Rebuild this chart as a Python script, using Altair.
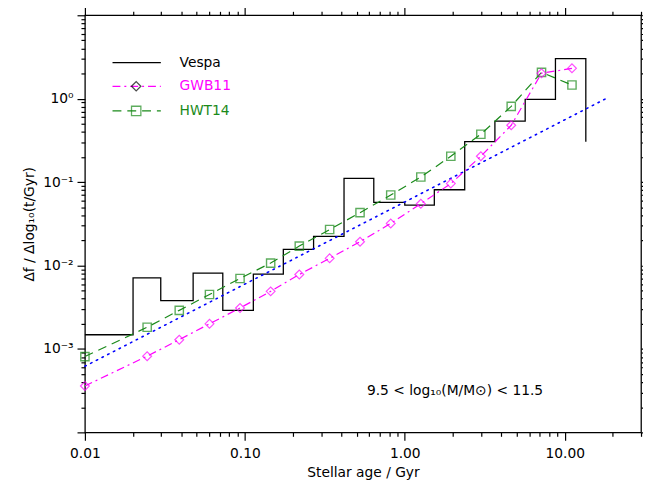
import pandas as pd
import altair as alt

# Vespa histogram: bin edges (Gyr) and heights
vespa_edges = [0.01, 0.02, 0.0298, 0.0475, 0.0728, 0.113, 0.174, 0.269, 0.417, 0.64,
               1.0, 1.53, 2.37, 3.66, 5.66, 8.75, 13.55]
vespa_vals = [1.48e-3, 7.1e-3, 3.8e-3, 8.1e-3, 2.9e-3, 7.9e-3, 1.56e-2, 2.24e-2, 0.111,
              0.057, 0.053, 0.081, 0.305, 0.54, 0.98, 3.02]
vespa_end = 0.305

# model points
mod_age = [0.01, 0.0245, 0.0389, 0.0601, 0.0933, 0.145, 0.219, 0.339, 0.525,
           0.817, 1.26, 1.94, 2.99, 4.63, 7.16, 11.1]
gwb11 = [3.6e-4, 8.2e-4, 1.29e-3, 2.0e-3, 3.1e-3, 4.9e-3, 7.8e-3, 1.22e-2, 1.93e-2,
         3.2e-2, 5.5e-2, 9.6e-2, 0.204, 0.48, 2.02, 2.31]
hwt14 = [8.1e-4, 1.82e-3, 2.9e-3, 4.5e-3, 7.0e-3, 1.07e-2, 1.71e-2, 2.7e-2, 4.3e-2,
         7.0e-2, 0.115, 0.204, 0.375, 0.81, 2.07, 1.46]

# dotted reference line
ref_age = [0.01, 19.0]
ref_val = [6.2e-4, 1.05]

W, H = 564, 423
MAGENTA = "#ff00ff"
GREEN = "#1a8a1a"
FONT = "DejaVu Sans"

xs = alt.Scale(type="log", domain=[0.01, 30], nice=False)
ys = alt.Scale(type="log", domain=[1e-4, 10], nice=False)

# step path for the histogram
sx, sy = [], []
for i, v in enumerate(vespa_vals):
    sx += [vespa_edges[i], vespa_edges[i + 1]]
    sy += [v, v]
sx.append(vespa_edges[-1])
sy.append(vespa_end)
step = pd.DataFrame({"age": sx, "val": sy, "o": range(len(sx))})

models = pd.DataFrame({"age": mod_age, "gwb": gwb11, "hwt": hwt14})
ref = pd.DataFrame({"age": ref_age, "val": ref_val})


def log_ticks(lo, hi, minor):
    out = []
    for d in range(-5, 3):
        for k in (range(2, 10) if minor else [1]):
            v = k * 10.0 ** d
            if lo * 0.9999 <= v <= hi * 1.0001:
                out.append(v)
    return out


xaxis = alt.Axis(values=[0.01, 0.1, 1, 10], format=".2f", ticks=False, domain=False,
                 grid=False, labelFont=FONT, labelFontSize=14, labelColor="black",
                 labelPadding=14, labelFlush=False, title="Stellar age / Gyr", titleFont=FONT,
                 titleFontSize=14, titleFontWeight="normal", titlePadding=6)
yaxis = alt.Axis(values=[1e-3, 1e-2, 1e-1, 1], ticks=False, domain=False, grid=False,
                 labelExpr="datum.value < 0.005 ? '10⁻³' : datum.value < 0.05 ? '10⁻²' : datum.value < 0.5 ? '10⁻¹' : '10⁰'",
                 labelFont=FONT, labelFontSize=14, labelColor="black", labelPadding=12,
                 title="Δf   /  Δlog₁₀(t/Gyr)", titleFont=FONT, titleFontSize=14,
                 titleFontWeight="normal", titlePadding=6)

hist = alt.Chart(step).mark_line(color="black", strokeWidth=1.3).encode(
    x=alt.X("age:Q", scale=xs, axis=xaxis),
    y=alt.Y("val:Q", scale=ys, axis=yaxis),
    order="o:Q",
)
refline = alt.Chart(ref).mark_line(color="blue", strokeDash=[1.5, 5], strokeWidth=1.6,
                                   strokeCap="round").encode(
    x=alt.X("age:Q", scale=xs, axis=None), y=alt.Y("val:Q", scale=ys, axis=None))
gline = alt.Chart(models).mark_line(color=MAGENTA, strokeDash=[8, 4, 2, 4], strokeWidth=1.2).encode(
    x=alt.X("age:Q", scale=xs, axis=None), y=alt.Y("gwb:Q", scale=ys, axis=None))
gpts = alt.Chart(models).mark_point(shape="diamond", color=MAGENTA, filled=False, size=80,
                                    strokeWidth=1.2).encode(
    x=alt.X("age:Q", scale=xs, axis=None), y=alt.Y("gwb:Q", scale=ys, axis=None))
hline = alt.Chart(models).mark_line(color=GREEN, strokeDash=[9, 6], strokeWidth=1.2).encode(
    x=alt.X("age:Q", scale=xs, axis=None), y=alt.Y("hwt:Q", scale=ys, axis=None))
hpts = alt.Chart(models).mark_point(shape="square", color=GREEN, filled=False, size=70,
                                    strokeWidth=1.4).encode(
    x=alt.X("age:Q", scale=xs, axis=None), y=alt.Y("hwt:Q", scale=ys, axis=None))

# log ticks on all four sides, drawn as extra tick-only axes
tick_layers = []
for minor, ln in [(False, 8), (True, 4)]:
    xv = log_ticks(0.01, 30, minor)
    yv = log_ticks(1e-4, 10, minor)
    for xo, yo in [("bottom", "left"), ("top", "right")]:
        ax = alt.Axis(orient=xo, values=xv, labels=False, domain=False, grid=False,
                      ticks=True, tickSize=ln, tickColor="black", tickWidth=1.2,
                      title=None)
        ay = alt.Axis(orient=yo, values=yv, labels=False, domain=False, grid=False,
                      ticks=True, tickSize=ln, tickColor="black", tickWidth=1.2,
                      title=None)
        tick_layers.append(alt.Chart(step).mark_line(opacity=0).encode(
            x=alt.X("age:Q", scale=xs, axis=ax), y=alt.Y("val:Q", scale=ys, axis=ay)))

# legend drawn by hand
leg = []
rows = [("Vespa", "black", [], None, 48),
        ("GWB11", MAGENTA, [8, 4, 2, 4], "diamond", 72),
        ("HWT14", GREEN, [9, 6], "square", 97)]
for name, col, dash, shape, yy in rows:
    leg.append(alt.Chart(pd.DataFrame({"n": [name]})).mark_rule(
        color=col, strokeWidth=1.3, strokeDash=dash).encode(
        x=alt.value(28), x2=alt.value(77), y=alt.value(yy)))
    if shape:
        leg.append(alt.Chart(pd.DataFrame({"n": [name]})).mark_point(
            shape=shape, filled=False, color="black" if shape == "diamond" else col,
            size=90, strokeWidth=1.3).encode(x=alt.value(52), y=alt.value(yy)))
    leg.append(alt.Chart(pd.DataFrame({"n": [name]})).mark_text(
        align="left", baseline="middle", font=FONT, fontSize=14, color=col).encode(
        x=alt.value(96), y=alt.value(yy), text="n:N"))

note = alt.Chart(pd.DataFrame({"t": ["9.5  < log₁₀(M/M⊙) < 11.5"]})).mark_text(
    align="left", baseline="middle", font=FONT, fontSize=14, color="black").encode(
    x=alt.value(286), y=alt.value(381), text="t:N")

chart = alt.layer(hist, refline, hline, gline, hpts, gpts, *tick_layers,
                  *leg, note).resolve_axis(x="independent", y="independent").properties(
    width=W, height=H,
    autosize=alt.AutoSizeParams(type="none"),
    padding={"left": 78, "top": 4, "right": 2, "bottom": 50},
).configure_view(stroke="black", strokeWidth=1.3)

chart.save("out.html", embed_options={"renderer": "svg", "actions": False})
